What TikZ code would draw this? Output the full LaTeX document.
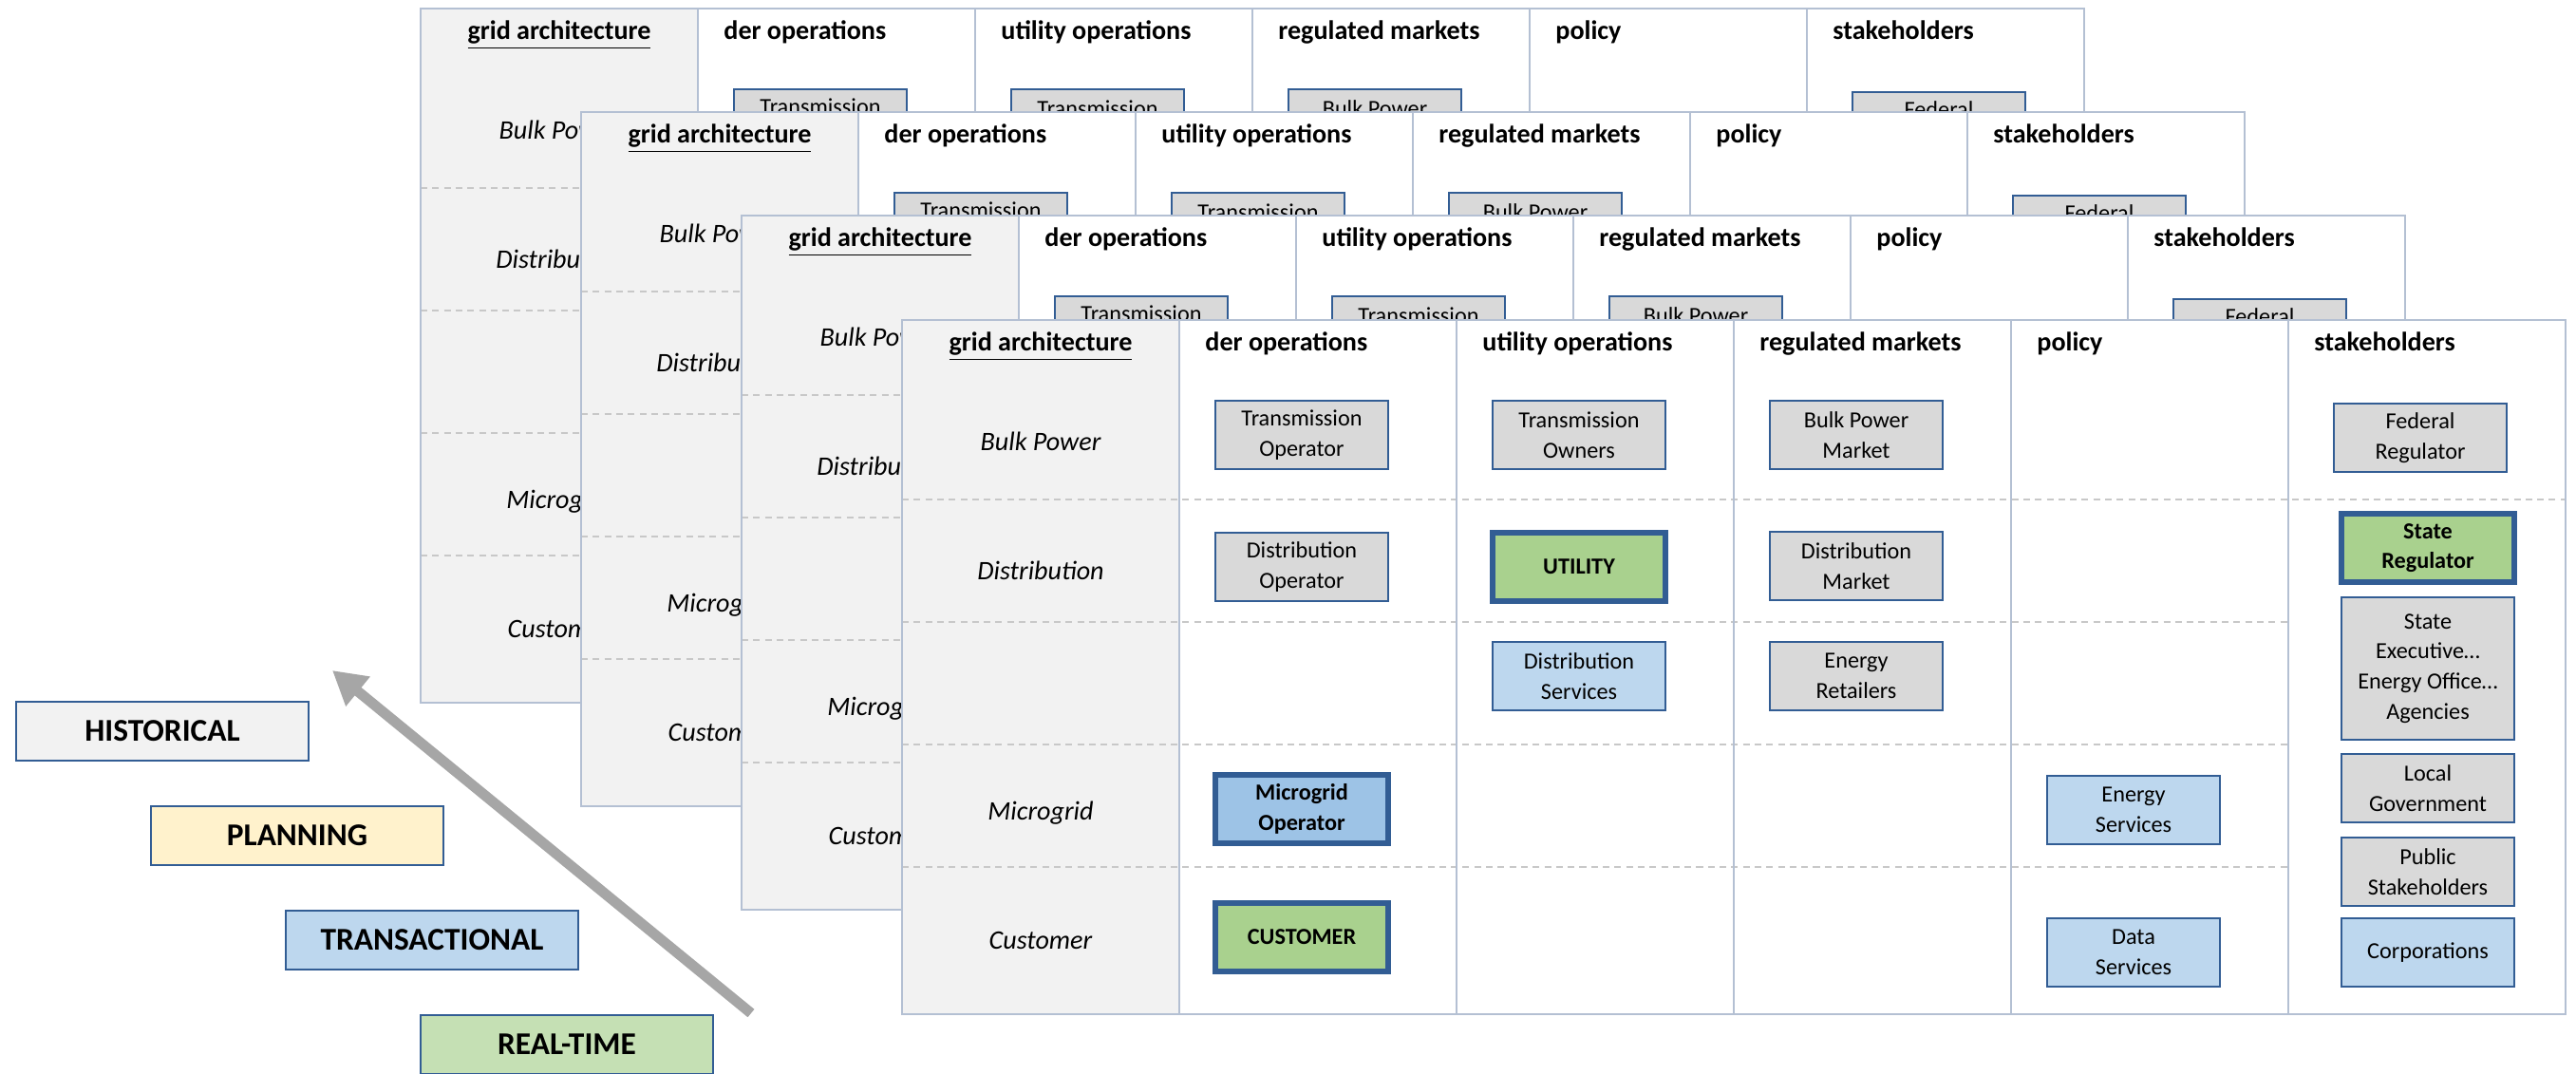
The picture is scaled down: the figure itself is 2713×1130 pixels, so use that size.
\documentclass[tikz,border=0pt]{standalone}
\usepackage{fontspec}
\setmainfont{Carlito}
\usetikzlibrary{arrows.meta}

\definecolor{frameblue}{HTML}{325D94}
\definecolor{gridline}{HTML}{B4C0D3}
\definecolor{dashgray}{HTML}{C8C8C8}
\definecolor{layergray}{HTML}{F2F2F2}
\definecolor{actorgray}{HTML}{D9D9D9}
\definecolor{actorblue}{HTML}{BDD7EE}
\definecolor{midblue}{HTML}{9DC3E6}
\definecolor{leadgreen}{HTML}{A9D18E}
\definecolor{realgreen}{HTML}{C5E0B4}
\definecolor{planyellow}{HTML}{FFF2CC}
\definecolor{arrowgray}{HTML}{A6A6A6}

\newcommand\cellfont{\fontsize{6.9}{9}\selectfont}
\newcommand\headfont{\fontsize{8}{10}\selectfont\bfseries}
\newcommand\rowfont{\fontsize{8}{10}\selectfont\itshape}
\newcommand\keyfont{\fontsize{9.5}{11}\selectfont\bfseries}

\tikzset{
  actor/.style={draw=frameblue, line width=0.8pt, fill=actorgray, minimum width=18.2mm,
    minimum height=7.2mm, inner sep=0pt, align=center, font=\cellfont},
  service/.style={actor, fill=actorblue},
  lead/.style={actor, line width=1.8pt, fill=leadgreen, font=\cellfont\bfseries},
  legend/.style={draw=frameblue, line width=0.8pt, minimum width=30.8mm,
    minimum height=6.2mm, inner sep=0pt, font=\keyfont},
  head/.style={anchor=base west, font=\headfont},
  layer/.style={anchor=base, font=\rowfont},
  rowline/.style={draw=dashgray, line width=0.6pt, dash pattern=on 2pt off 1.5pt},
  colline/.style={draw=gridline, line width=0.6pt},
  timeline/.style={draw=arrowgray, line width=3.1pt, -{Triangle[length=3.5mm,width=3.8mm]}},
  % one sheet of the grid, drawn from its top left corner
  sheet/.pic={
    \fill[white] (0,0) rectangle (1752,731);
    \fill[layergray] (0,0) rectangle (292,731);
    \draw[rowline] (0,189) -- (1752,189);
    \foreach \y in {318,447,576}
      \draw[rowline] (0,\y) -- (1460,\y);
    \foreach \x in {292,584,...,1460}
      \draw[colline] (\x,0) -- (\x,731);
    \draw[colline] (0,0) rectangle (1752,731);
    % column heads
    \node[font=\headfont, anchor=base] (-arch) at (146,32) {\underline{grid architecture}};
    \node[head] (-der) at (307,32) {der operations};
    \node[head] (-util) at (599,32) {utility operations};
    \node[head] (-mkt) at (891,32) {regulated markets};
    \node[head] (-pol) at (1183,32) {policy};
    \node[head] (-stake) at (1475,32) {stakeholders};
    % layers
    \node[layer] (-bulk) at (146,137) {Bulk Power};
    \node[layer] (-dist) at (146,273) {Distribution};
    \node[layer] (-micro) at (146,526) {Microgrid};
    \node[layer] (-cust) at (146,662) {Customer};
    % actors
    \node[actor] (-tso) at (421,121) {Transmission\\Operator};
    \node[actor] (-dso) at (421,260) {Distribution\\Operator};
    \node[lead, fill=midblue] (-mgop) at (421,515) {Microgrid\\Operator};
    \node[lead] (-customer) at (421,650) {CUSTOMER};
    \node[actor] (-towners) at (713,121) {Transmission\\Owners};
    \node[lead] (-utility) at (713,260) {UTILITY};
    \node[service] (-dserv) at (713,375) {Distribution\\Services};
    \node[actor] (-bpmkt) at (1005,121) {Bulk Power\\Market};
    \node[actor] (-dmkt) at (1005,259) {Distribution\\Market};
    \node[actor] (-retail) at (1005,375) {Energy\\Retailers};
    \node[service] (-eserv) at (1297,516) {Energy\\Services};
    \node[service] (-data) at (1297,666) {Data\\Services};
    \node[actor] (-fedreg) at (1599,124) {Federal\\Regulator};
    \node[lead] (-statereg) at (1607,240) {State\\Regulator};
    \node[actor, minimum height=15mm] (-stateexec) at (1607,367)
      {State\\Executive…\\Energy Office…\\Agencies};
    \node[actor] (-localgov) at (1607,493) {Local\\Government};
    \node[actor] (-public) at (1607,581) {Public\\Stakeholders};
    \node[service] (-corp) at (1607,666) {Corporations};
  }
}

\begin{document}
\begin{tikzpicture}[x=0.1mm, y=-0.1mm]
  \useasboundingbox (0,0) rectangle (2713,1130);

  % stacked sheets, back to front
  \foreach \i/\x/\y in {1/443/9, 2/612/118, 3/781/227, 4/950/337}
    \pic (s\i) at (\x,\y) {sheet};

  % time scales
  \node[legend, fill=layergray] (hist) at (171,770) {HISTORICAL};
  \node[legend, fill=planyellow] (plan) at (313,880) {PLANNING};
  \node[legend, fill=actorblue] (trans) at (455,990) {TRANSACTIONAL};
  \node[legend, fill=realgreen] (real) at (597,1100) {REAL-TIME};

  \coordinate (tail) at (791,1067);
  \coordinate (tip) at (350,706);
  \draw[timeline] (tail) -- (tip);
\end{tikzpicture}
\end{document}
